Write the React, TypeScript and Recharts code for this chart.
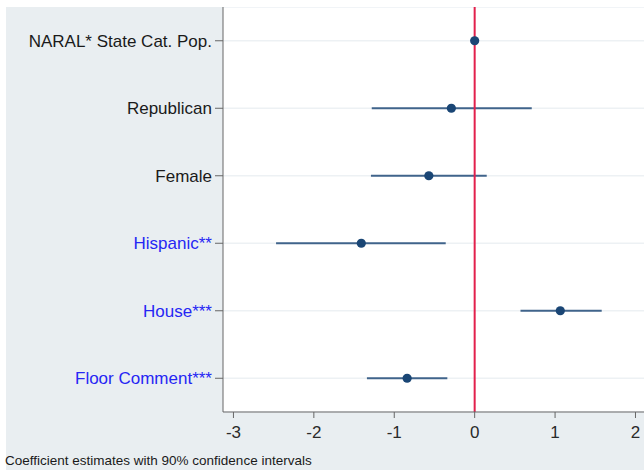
import React from 'react';
import {
  ScatterChart, Scatter, XAxis, YAxis, CartesianGrid, ReferenceLine, ErrorBar,
} from 'recharts';

// coefficient estimates, top to bottom
const labels = [
  'NARAL* State Cat. Pop.',
  'Republican',
  'Female',
  'Hispanic**',
  'House***',
  'Floor Comment***',
];
const significant = [false, false, false, true, true, true];
const estimates = [0.0, -0.29, -0.57, -1.41, 1.065, -0.84];
const lower = [-0.01, -1.28, -1.29, -2.47, 0.57, -1.34];
const upper = [0.01, 0.71, 0.15, -0.36, 1.58, -0.34];
const xTicks = [-3, -2, -1, 0, 1, 2];

const FONT = '"Liberation Sans", Arial, Helvetica, sans-serif';

const rows = labels.map((name, i) => ({
  name,
  y: i + 1,
  x: estimates[i],
  err: [estimates[i] - lower[i], upper[i] - estimates[i]],
}));

const YTick = (props: any) => {
  const { x, y, payload } = props;
  const i = payload.value - 1;
  return (
    <text
      x={x}
      y={y}
      dy="0.36em"
      textAnchor="end"
      fontSize={17}
      fontFamily={FONT}
      fill={significant[i] ? '#2626f4' : '#1a1a1a'}
    >
      {labels[i]}
    </text>
  );
};

export default function App() {
  return (
    <div style={{ position: 'absolute', left: 0, top: 0, width: 644, height: 470, background: '#fff', overflow: 'hidden' }}>
      <div style={{ position: 'absolute', left: 6, top: 7, width: 638, height: 463, background: '#e9eef1' }}>
        <ScatterChart width={638} height={436} margin={{ top: 0, right: 0, bottom: 0, left: 0 }}>
          <CartesianGrid vertical={false} fill="#ffffff" stroke="#edf1f4" strokeWidth={1.5} />
          <XAxis
            type="number"
            dataKey="x"
            domain={[-3.13, 2.106]}
            ticks={xTicks}
            allowDataOverflow
            height={31}
            tickSize={6}
            tickMargin={8}
            stroke="#666"
            tick={{ fill: '#2a2a2a', fontSize: 17, fontFamily: FONT }}
          />
          <YAxis
            type="number"
            dataKey="y"
            domain={[0.5, 6.5]}
            ticks={[1, 2, 3, 4, 5, 6]}
            reversed
            width={217}
            tickSize={8}
            tickMargin={3}
            stroke="#666"
            tick={<YTick />}
          />
          <Scatter
            data={rows}
            isAnimationActive={false}
            shape={(p: any) => <circle cx={p.cx} cy={p.cy} r={4.6} fill="#1a4675" />}
          >
            <ErrorBar dataKey="err" direction="x" width={0} stroke="#40648b" strokeWidth={2} />
          </Scatter>
          <ReferenceLine x={0} stroke="#e2204c" strokeWidth={2} />
        </ScatterChart>
        <div style={{ position: 'absolute', left: -1, top: 446, fontFamily: FONT, fontSize: 13.5, color: '#1a1a1a', whiteSpace: 'nowrap' }}>
          Coefficient estimates with 90% confidence intervals
        </div>
      </div>
    </div>
  );
}
